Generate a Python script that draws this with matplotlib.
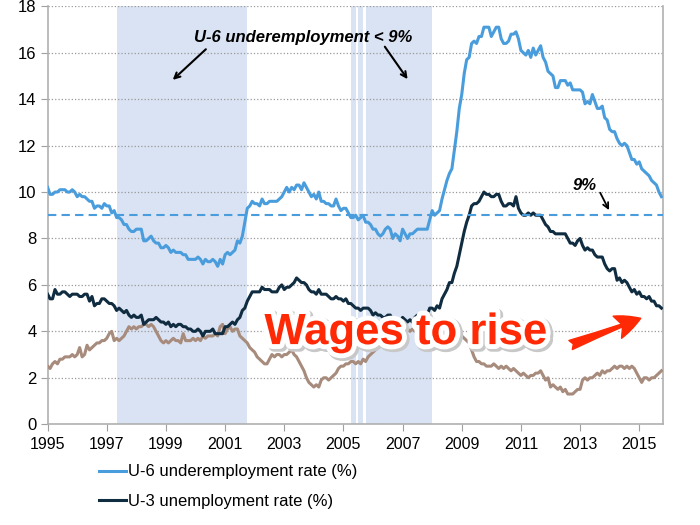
import numpy as np
import matplotlib
matplotlib.use("Agg")
import matplotlib.pyplot as plt
import matplotlib.patheffects as pe

plt.rcParams['font.family'] = ['Liberation Sans', 'DejaVu Sans']

# monthly data, Jan 1995 - Oct 2015
u6 = [
    10.2, 9.9, 9.9, 10.0, 10.0, 10.1, 10.1, 10.1, 10.0, 10.0, 10.1, 10.0,   # 1995
    9.8, 9.9, 9.8, 9.8, 9.7, 9.6, 9.6, 9.3, 9.4, 9.4, 9.3, 9.5,             # 1996
    9.4, 9.4, 9.1, 9.2, 8.9, 8.9, 8.8, 8.6, 8.6, 8.4, 8.3, 8.3,             # 1997
    8.4, 8.4, 8.4, 7.9, 7.9, 8.0, 8.1, 7.9, 7.8, 7.8, 7.6, 7.6,             # 1998
    7.7, 7.6, 7.4, 7.5, 7.4, 7.4, 7.4, 7.3, 7.3, 7.1, 7.1, 7.1,             # 1999
    7.1, 7.2, 7.1, 6.9, 7.1, 7.0, 7.0, 7.1, 7.0, 6.8, 7.1, 6.9,             # 2000
    7.3, 7.4, 7.3, 7.4, 7.5, 7.9, 7.8, 8.1, 8.7, 9.3, 9.4, 9.6,             # 2001
    9.5, 9.5, 9.4, 9.7, 9.5, 9.5, 9.6, 9.6, 9.6, 9.6, 9.7, 9.8,             # 2002
    10.0, 10.2, 10.0, 10.2, 10.1, 10.3, 10.3, 10.1, 10.4, 10.2, 10.0, 9.8,  # 2003
    9.9, 9.7, 10.0, 9.6, 9.6, 9.5, 9.5, 9.4, 9.4, 9.7, 9.4, 9.2,            # 2004
    9.3, 9.3, 9.1, 8.9, 8.9, 9.0, 8.8, 8.9, 9.0, 8.7, 8.7, 8.6,             # 2005
    8.4, 8.4, 8.2, 8.1, 8.2, 8.4, 8.5, 8.4, 8.0, 8.2, 8.1, 7.9,             # 2006
    8.4, 8.2, 8.0, 8.2, 8.2, 8.3, 8.4, 8.4, 8.4, 8.4, 8.4, 8.8,             # 2007
    9.2, 9.0, 9.1, 9.2, 9.7, 10.1, 10.5, 10.8, 11.0, 11.8, 12.6, 13.6,      # 2008
    14.2, 15.1, 15.7, 15.8, 16.4, 16.5, 16.4, 16.7, 16.7, 17.1, 17.1, 17.1, # 2009
    16.7, 16.9, 17.1, 17.1, 16.6, 16.4, 16.4, 16.5, 16.8, 16.8, 16.9, 16.6, # 2010
    16.1, 16.0, 15.9, 16.1, 15.8, 16.2, 15.9, 16.1, 16.3, 15.8, 15.6, 15.2, # 2011
    15.1, 15.0, 14.5, 14.5, 14.8, 14.8, 14.8, 14.6, 14.7, 14.4, 14.4, 14.4, # 2012
    14.4, 14.3, 13.8, 13.9, 13.8, 14.2, 13.9, 13.6, 13.6, 13.7, 13.2, 13.1, # 2013
    12.7, 12.6, 12.6, 12.3, 12.1, 12.0, 12.1, 12.0, 11.7, 11.4, 11.4, 11.2, # 2014
    11.3, 11.0, 10.9, 10.8, 10.7, 10.5, 10.4, 10.3, 10.0, 9.8,              # 2015
]

u3 = [
    5.6, 5.4, 5.4, 5.8, 5.6, 5.6, 5.7, 5.7, 5.6, 5.5, 5.6, 5.6,   # 1995
    5.6, 5.5, 5.5, 5.6, 5.6, 5.3, 5.5, 5.1, 5.2, 5.2, 5.4, 5.4,   # 1996
    5.3, 5.2, 5.2, 5.1, 4.9, 5.0, 4.9, 4.8, 4.9, 4.7, 4.6, 4.7,   # 1997
    4.6, 4.6, 4.7, 4.3, 4.4, 4.5, 4.5, 4.5, 4.6, 4.5, 4.4, 4.4,   # 1998
    4.3, 4.4, 4.2, 4.3, 4.2, 4.3, 4.3, 4.2, 4.2, 4.1, 4.1, 4.0,   # 1999
    4.0, 4.1, 4.0, 3.8, 4.0, 4.0, 4.0, 4.1, 3.9, 3.9, 3.9, 3.9,   # 2000
    4.2, 4.2, 4.3, 4.4, 4.3, 4.5, 4.6, 4.9, 5.0, 5.3, 5.5, 5.7,   # 2001
    5.7, 5.7, 5.7, 5.9, 5.8, 5.8, 5.8, 5.7, 5.7, 5.7, 5.9, 6.0,   # 2002
    5.8, 5.9, 5.9, 6.0, 6.1, 6.3, 6.2, 6.1, 6.1, 6.0, 5.8, 5.7,   # 2003
    5.7, 5.6, 5.8, 5.6, 5.6, 5.6, 5.5, 5.4, 5.4, 5.5, 5.4, 5.4,   # 2004
    5.3, 5.4, 5.2, 5.2, 5.1, 5.0, 5.0, 4.9, 5.0, 5.0, 5.0, 4.9,   # 2005
    4.7, 4.8, 4.7, 4.7, 4.6, 4.6, 4.7, 4.7, 4.5, 4.4, 4.5, 4.4,   # 2006
    4.6, 4.5, 4.4, 4.5, 4.4, 4.6, 4.7, 4.6, 4.7, 4.7, 4.7, 5.0,   # 2007
    5.0, 4.9, 5.1, 5.0, 5.4, 5.6, 5.8, 6.1, 6.1, 6.5, 6.8, 7.3,   # 2008
    7.8, 8.3, 8.7, 9.0, 9.4, 9.5, 9.5, 9.6, 9.8, 10.0, 9.9, 9.9,  # 2009
    9.8, 9.8, 9.9, 9.9, 9.6, 9.4, 9.4, 9.5, 9.5, 9.4, 9.8, 9.3,   # 2010
    9.1, 9.0, 9.0, 9.1, 9.0, 9.1, 9.0, 9.0, 9.0, 8.8, 8.6, 8.5,   # 2011
    8.3, 8.3, 8.2, 8.2, 8.2, 8.2, 8.2, 8.0, 7.8, 7.8, 7.7, 7.9,   # 2012
    8.0, 7.7, 7.5, 7.6, 7.5, 7.5, 7.3, 7.2, 7.2, 7.2, 6.9, 6.7,   # 2013
    6.6, 6.7, 6.7, 6.2, 6.3, 6.1, 6.2, 6.1, 5.9, 5.7, 5.8, 5.6,   # 2014
    5.7, 5.5, 5.5, 5.4, 5.5, 5.3, 5.3, 5.1, 5.1, 5.0,             # 2015
]

wages = [
    2.5, 2.4, 2.6, 2.7, 2.6, 2.8, 2.8, 2.9, 2.9, 2.9, 3.0, 2.9,   # 1995
    3.0, 3.3, 2.9, 3.0, 3.4, 3.2, 3.3, 3.4, 3.5, 3.5, 3.6, 3.6,   # 1996
    3.7, 3.9, 4.0, 3.6, 3.7, 3.6, 3.7, 3.8, 4.0, 4.2, 4.1, 4.2,   # 1997
    4.1, 4.2, 4.2, 4.3, 4.3, 4.2, 4.3, 4.2, 4.0, 3.8, 3.6, 3.5,   # 1998
    3.6, 3.5, 3.6, 3.7, 3.6, 3.6, 3.5, 3.9, 3.6, 3.6, 3.6, 3.7,   # 1999
    3.6, 3.7, 3.6, 3.8, 3.7, 3.8, 3.8, 3.8, 3.9, 3.8, 4.2, 4.3,   # 2000
    3.9, 4.1, 4.2, 4.0, 4.1, 4.1, 3.8, 3.7, 3.6, 3.5, 3.3, 3.2,   # 2001
    3.1, 2.9, 2.8, 2.7, 2.6, 2.6, 2.8, 3.0, 2.9, 3.0, 3.0, 2.9,   # 2002
    3.0, 3.0, 3.1, 3.2, 3.0, 2.9, 2.7, 2.5, 2.3, 2.0, 1.8, 1.7,   # 2003
    1.6, 1.7, 1.6, 1.9, 2.0, 2.0, 1.9, 2.0, 2.1, 2.2, 2.4, 2.5,   # 2004
    2.5, 2.6, 2.6, 2.7, 2.7, 2.6, 2.7, 2.6, 2.8, 2.7, 2.9, 3.0,   # 2005
    3.1, 3.2, 3.3, 3.4, 3.5, 3.5, 3.7, 3.8, 3.9, 3.9, 4.0, 4.0,   # 2006
    4.1, 4.0, 4.1, 4.0, 4.1, 4.0, 4.1, 4.0, 4.1, 4.2, 4.1, 4.0,   # 2007
    3.9, 4.0, 3.9, 3.8, 3.8, 3.9, 3.8, 3.9, 3.8, 3.9, 3.8, 3.9,   # 2008
    3.8, 3.7, 3.6, 3.5, 3.2, 2.9, 2.7, 2.7, 2.6, 2.6, 2.5, 2.5,   # 2009
    2.5, 2.6, 2.5, 2.4, 2.5, 2.4, 2.5, 2.4, 2.3, 2.4, 2.3, 2.2,   # 2010
    2.1, 2.2, 2.1, 2.0, 2.1, 2.1, 2.2, 2.2, 2.3, 2.1, 1.9, 2.0,   # 2011
    1.6, 1.7, 1.6, 1.5, 1.6, 1.4, 1.5, 1.3, 1.3, 1.3, 1.4, 1.5,   # 2012
    1.5, 1.9, 2.0, 1.9, 2.0, 2.0, 2.1, 2.2, 2.1, 2.3, 2.2, 2.3,   # 2013
    2.3, 2.4, 2.5, 2.4, 2.5, 2.5, 2.4, 2.5, 2.4, 2.5, 2.4, 2.2,   # 2014
    2.0, 1.8, 2.0, 2.0, 1.9, 2.0, 2.0, 2.1, 2.2, 2.3,             # 2015
]

threshold = 9
year_ticks = list(range(1995, 2016, 2))

c_u6 = '#4a9ddc'
c_u3 = '#102c40'
c_wage = '#a78b7c'
c_shade = '#dae3f3'

t = 1995 + np.arange(len(u6)) / 12.0
u6a = np.array(u6)

fig = plt.figure(figsize=(7, 5.25), dpi=100)
ax = fig.add_axes([0.068, 0.192, 0.879, 0.796])

# shade months where U-6 is below 9%
below = u6a < threshold
i = 0
while i < len(below):
    if below[i]:
        j = i
        while j + 1 < len(below) and below[j + 1]:
            j += 1
        ax.axvspan(t[i], t[j] + 1 / 12.0, color=c_shade, lw=0, zorder=0)
        i = j + 1
    else:
        i += 1

ax.plot(t, wages, color=c_wage, lw=2.2, zorder=3)
l6, = ax.plot(t, u6, color=c_u6, lw=2.2, zorder=4, label='U-6 underemployment rate (%)')
l3, = ax.plot(t, u3, color=c_u3, lw=2.2, zorder=4, label='U-3 unemployment rate (%)')
ax.axhline(threshold, color=c_u6, lw=1.5, ls=(0, (4, 2.5)), zorder=4)

ax.set_xlim(1995, 2015.8)
ax.set_ylim(0, 18)
ax.set_xticks(year_ticks)
ax.set_xticklabels([str(y) for y in year_ticks], fontsize=11.5)
ax.set_yticks(range(0, 19, 2))
ax.tick_params(axis='y', labelsize=12, length=5, color='#a0a0a0', pad=3)
ax.tick_params(axis='x', length=5, color='#a0a0a0', pad=4)
ax.yaxis.grid(True, ls=':', color='#999999', lw=0.9)
ax.set_axisbelow(True)
for s in ['left', 'bottom', 'right']:
    ax.spines[s].set_color('#b0b0b0')
    ax.spines[s].set_linewidth(1.2)
ax.spines['top'].set_visible(False)

# annotations
ax.text(2003.65, 16.64, 'U-6 underemployment < 9%', ha='center', va='center',
        fontsize=12, fontweight='bold', fontstyle='italic', zorder=6)
ax.annotate('', xy=(1999.23, 14.83), xytext=(2000.35, 16.15),
            arrowprops=dict(arrowstyle='->', color='black', lw=1.5, shrinkA=0, shrinkB=0))
ax.annotate('', xy=(2007.17, 14.86), xytext=(2006.40, 16.26),
            arrowprops=dict(arrowstyle='->', color='black', lw=1.5, shrinkA=0, shrinkB=0))
ax.text(2013.16, 10.3, '9%', ha='center', va='center',
        fontsize=12, fontweight='bold', fontstyle='italic', zorder=6)
ax.annotate('', xy=(2013.98, 9.22), xytext=(2013.68, 9.97),
            arrowprops=dict(arrowstyle='->', color='black', lw=1.3, shrinkA=0, shrinkB=0))

red = '#ff2a05'
glow = [pe.Stroke(linewidth=8, foreground='#c8c8c8', offset=(1.5, -1.5)),
        pe.Stroke(linewidth=7, foreground='white'), pe.Normal()]
ax.text(2002.33, 3.45, 'Wages to rise', ha='left', va='baseline', color=red,
        fontsize=31.5, fontweight='bold', zorder=8, path_effects=glow)
ax.annotate('', xy=(2015.05, 4.56), xytext=(2012.68, 3.41),
            arrowprops=dict(arrowstyle='fancy,head_length=0.9,head_width=0.85,tail_width=0.35',
                            color=red, mutation_scale=20, shrinkA=0, shrinkB=0,
                            path_effects=[pe.Stroke(linewidth=3, foreground='white'), pe.Normal()]),
            zorder=8)

fig.legend(handles=[l6, l3], loc='upper left', bbox_to_anchor=(0.132, 0.128),
           frameon=False, fontsize=12, handlelength=1.6, handletextpad=0.15,
           labelspacing=0.85, borderaxespad=0)

fig.savefig('out.png', dpi=100)
